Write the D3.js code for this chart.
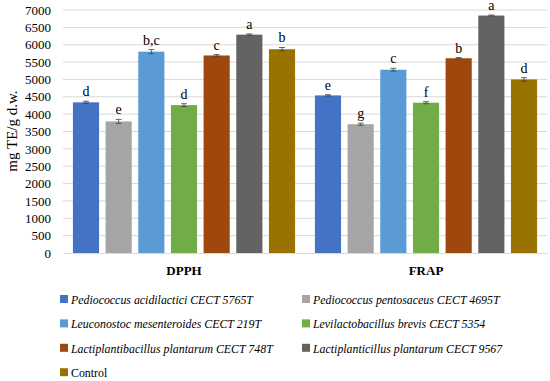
<!DOCTYPE html>
<meta charset="utf-8">
<style>
body { margin: 0; background: #fff; }
.grid line { stroke: #d9d9d9; stroke-width: 1px; }
.axis--y path, .axis--y line { display: none; }
.axis--x path { stroke: #d9d9d9; }
.axis--x line { display: none; }
</style>
<svg width="550" height="381"></svg>
<script src="https://d3js.org/d3.v7.min.js"></script>
<script>

var assays = ["DPPH", "FRAP"];
var strains = [
  "Pediococcus acidilactici CECT 5765T",
  "Pediococcus pentosaceus CECT 4695T",
  "Leuconostoc mesenteroides CECT 219T",
  "Levilactobacillus brevis CECT 5354",
  "Lactiplantibacillus plantarum CECT 748T",
  "Lactiplanticillus plantarum CECT 9567",
  "Control"
];
var colors = ["#4472c4", "#a5a5a5", "#5b9bd5", "#70ad47", "#9e480e", "#636363", "#997300"];

var dpph = [4340, 3790, 5800, 4260, 5690, 6290, 5870];
var frap = [4540, 3710, 5280, 4330, 5610, 6840, 5000];
var dpphErr = [30, 60, 60, 40, 25, 20, 50];
var frapErr = [20, 30, 40, 30, 20, 15, 50];
var dpphLetters = ["d", "e", "b,c", "d", "c", "a", "b"];
var frapLetters = ["e", "g", "c", "f", "b", "a", "d"];
var yTicks = d3.range(0, 7001, 500);

var values = { DPPH: dpph, FRAP: frap };
var errors = { DPPH: dpphErr, FRAP: frapErr };
var letters = { DPPH: dpphLetters, FRAP: frapLetters };

var serif = '"Liberation Serif", "DejaVu Serif", serif';

var svg = d3.select("svg"),
    margin = {top: 10, right: 3, bottom: 128, left: 63},
    width = +svg.attr("width") - margin.left - margin.right,
    height = +svg.attr("height") - margin.top - margin.bottom,
    g = svg.append("g").attr("transform", "translate(" + margin.left + "," + margin.top + ")");

// legend font sized so the first entry is about as wide as in the picture
var probe = svg.append("text")
    .attr("font-family", serif)
    .attr("font-size", 14)
    .attr("font-style", "italic")
    .text(strains[0]);
var legendSize = 14 * 182 / probe.node().getComputedTextLength();
probe.remove();

var x0 = d3.scaleBand()
    .domain(assays)
    .range([0, width])
    .paddingInner(0.055)
    .paddingOuter(0.0275);

var x1 = d3.scaleBand()
    .domain(d3.range(strains.length))
    .range([0, x0.bandwidth()])
    .paddingInner(0.2)
    .paddingOuter(0.1);

var y = d3.scaleLinear()
    .domain([0, 7000])
    .range([height, 0]);

// gridlines
g.append("g")
    .attr("class", "grid")
  .selectAll("line")
  .data(yTicks.slice(1))
  .enter().append("line")
    .attr("x1", 0)
    .attr("x2", width)
    .attr("y1", function(d) { return y(d); })
    .attr("y2", function(d) { return y(d); });

g.append("g")
    .attr("class", "axis axis--y")
    .call(d3.axisLeft(y).tickValues(yTicks).tickFormat(d3.format("d")).tickSize(0).tickPadding(12))
    .attr("font-family", serif)
    .attr("font-size", 13)
    .selectAll("text")
    .attr("fill", "#000");

var groups = g.selectAll(".group")
  .data(assays)
  .enter().append("g")
    .attr("class", "group")
    .attr("transform", function(d) { return "translate(" + x0(d) + ",0)"; });

var rows = groups.selectAll(".bar")
  .data(function(a) {
    return values[a].map(function(v, i) {
      return {i: i, v: v, e: errors[a][i], l: letters[a][i]};
    });
  })
  .enter().append("g");

rows.append("rect")
    .attr("x", function(d) { return x1(d.i); })
    .attr("y", function(d) { return y(d.v); })
    .attr("width", x1.bandwidth())
    .attr("height", function(d) { return height - y(d.v); })
    .attr("fill", function(d) { return colors[d.i]; });

// error bars
var ebar = rows.append("g").attr("stroke", "#404040").attr("stroke-width", 0.8);
ebar.append("line")
    .attr("x1", function(d) { return x1(d.i) + x1.bandwidth() / 2; })
    .attr("x2", function(d) { return x1(d.i) + x1.bandwidth() / 2; })
    .attr("y1", function(d) { return y(d.v + d.e); })
    .attr("y2", function(d) { return y(d.v - d.e); });
ebar.selectAll(".cap")
  .data(function(d) { return [d.v + d.e, d.v - d.e].map(function(v) { return {i: d.i, v: v}; }); })
  .enter().append("line")
    .attr("x1", function(d) { return x1(d.i) + x1.bandwidth() / 2 - 3; })
    .attr("x2", function(d) { return x1(d.i) + x1.bandwidth() / 2 + 3; })
    .attr("y1", function(d) { return y(d.v); })
    .attr("y2", function(d) { return y(d.v); });

rows.append("text")
    .attr("x", function(d) { return x1(d.i) + x1.bandwidth() / 2; })
    .attr("y", function(d) { return y(d.v + d.e) - 5; })
    .attr("text-anchor", "middle")
    .attr("font-family", serif)
    .attr("font-size", 14)
    .text(function(d) { return d.l; });

g.append("g")
    .attr("class", "axis axis--x")
    .attr("transform", "translate(0," + height + ")")
    .call(d3.axisBottom(x0).tickSize(0).tickPadding(13).tickSizeOuter(0))
    .attr("font-family", serif)
    .attr("font-size", 13)
    .selectAll("text")
    .attr("fill", "#000")
    .attr("font-weight", "bold");

svg.append("text")
    .attr("transform", "translate(17,131) rotate(-90)")
    .attr("text-anchor", "middle")
    .attr("font-family", serif)
    .attr("font-size", 15)
    .text("mg TE/g d.w.");

// legend
var legend = svg.append("g").selectAll("g")
  .data(strains)
  .enter().append("g")
    .attr("transform", function(d, i) {
      return "translate(" + (i % 2 ? 302 : 60) + "," + (300 + Math.floor(i / 2) * 24.4) + ")";
    });

legend.append("rect")
    .attr("x", 0)
    .attr("y", -5)
    .attr("width", 8)
    .attr("height", 8)
    .attr("fill", function(d, i) { return colors[i]; });

legend.append("text")
    .attr("x", 11)
    .attr("y", 0)
    .attr("dy", "0.32em")
    .attr("font-family", serif)
    .attr("font-size", legendSize)
    .attr("font-style", function(d) { return d == "Control" ? "normal" : "italic"; })
    .text(function(d) { return d; });

</script>
